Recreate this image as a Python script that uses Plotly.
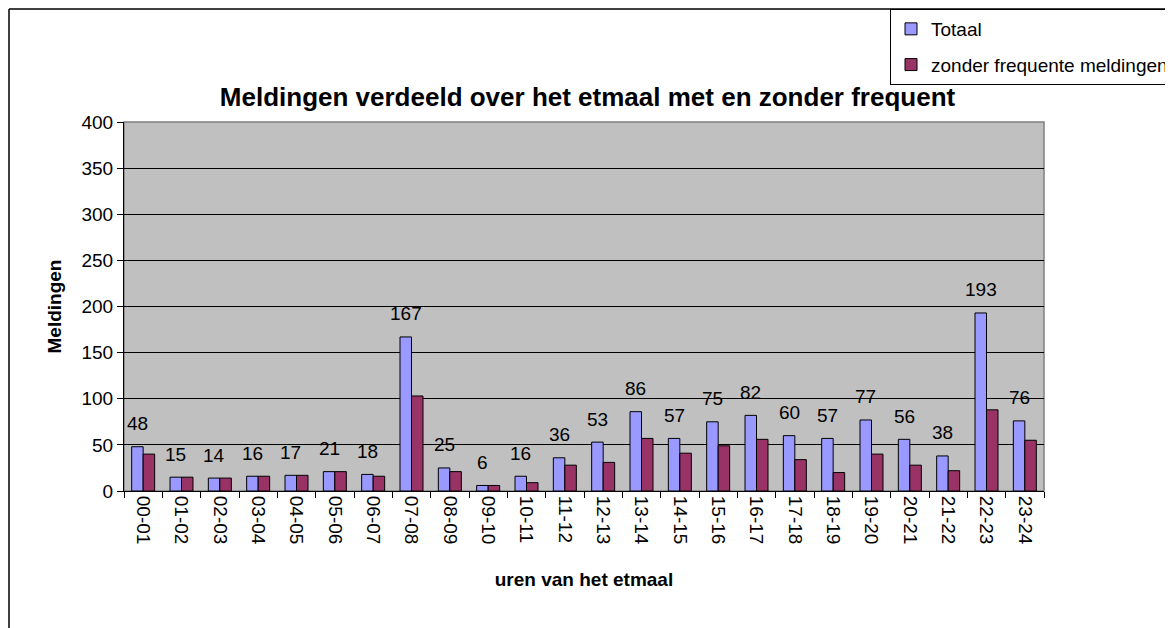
import plotly.graph_objects as go

categories = ["00-01", "01-02", "02-03", "03-04", "04-05", "05-06", "06-07", "07-08",
              "08-09", "09-10", "10-11", "11-12", "12-13", "13-14", "14-15", "15-16",
              "16-17", "17-18", "18-19", "19-20", "20-21", "21-22", "22-23", "23-24"]
totaal = [48, 15, 14, 16, 17, 21, 18, 167, 25, 6, 16, 36, 53, 86, 57, 75, 82, 60, 57, 77, 56, 38, 193, 76]
zonder = [40, 15, 14, 16, 17, 21, 16, 103, 21, 6, 9, 28, 31, 57, 41, 49, 56, 34, 20, 40, 28, 22, 88, 55]
y_ticks = [0, 50, 100, 150, 200, 250, 300, 350, 400]

W, H = 1173, 628          # browser window
O = 8                     # default page body margin
FW, FH = W - O, H - O     # figure size
L, R, T, B = 124, 1044, 122, 491   # plot area in window pixels
pw, ph = R - L, B - T

FONT = "Liberation Sans, Arial, sans-serif"

fig = go.Figure()
fig.add_trace(go.Bar(
    x=categories, y=totaal, name="Totaal", legendgroup="a",
    marker=dict(color="#9999FF", line=dict(color="black", width=1)),
))
fig.add_trace(go.Bar(
    x=categories, y=zonder, name="zonder frequente meldingen", legendgroup="b",
    marker=dict(color="#993366", line=dict(color="black", width=1)),
))

cat_px = pw / len(categories)
for c, v in zip(categories, totaal):
    fig.add_annotation(x=c, y=v, text=str(v), showarrow=False,
                       xshift=-0.15 * cat_px, yshift=23, yanchor="middle",
                       font=dict(family=FONT, size=19, color="black"))

# outer chart border (left and top edges visible)
top_y = (B - (O + 1)) / ph
fig.add_shape(type="line", xref="paper", yref="paper",
              x0=(9 - L) / pw, x1=(W + 20 - L) / pw, y0=top_y, y1=top_y,
              line=dict(color="black", width=1.5), layer="below")
fig.add_shape(type="line", xref="paper", yref="paper",
              x0=(9 - L) / pw, x1=(9 - L) / pw, y0=(B - (H + 20)) / ph, y1=top_y,
              line=dict(color="black", width=1.5), layer="below")
# plot area border (top, right grey)
fig.add_shape(type="rect", xref="paper", yref="paper", x0=0, x1=1, y0=0, y1=1,
              line=dict(color="#808080", width=1.5), layer="below")

fig.update_layout(
    width=FW, height=FH,
    margin=dict(l=L - O, r=W - R, t=T - O, b=H - B, pad=0, autoexpand=False),
    paper_bgcolor="white", plot_bgcolor="#C0C0C0",
    barmode="group", bargap=0.4, bargroupgap=0,
    font=dict(family=FONT, size=20, color="black"),
    title=dict(text="<b>Meldingen verdeeld over het etmaal met en zonder frequent</b>",
               x=(587.5 - O) / FW, xref="container", xanchor="center",
               y=1 - (97 - O) / FH, yref="container", yanchor="middle",
               font=dict(family=FONT, size=26, color="black")),
    legend=dict(x=(890 - L) / pw, y=(B - (O + 1)) / ph, xanchor="left", yanchor="top",
                bgcolor="white", bordercolor="black", borderwidth=1,
                font=dict(family=FONT, size=19, color="black"),
                tracegroupgap=8, itemwidth=30),
    showlegend=True,
)
fig.update_xaxes(
    type="category", showline=True, linecolor="black", linewidth=1,
    ticks="outside", ticklen=6, tickcolor="black", tickson="boundaries",
    tickangle=90, tickfont=dict(family=FONT, size=19),
    showgrid=False, automargin=False,
    title=dict(text="<b>uren van het etmaal</b>", standoff=28,
               font=dict(family=FONT, size=19)),
)
fig.update_yaxes(
    range=[0, 400], tickvals=y_ticks, showline=True, linecolor="black", linewidth=1,
    ticks="outside", ticklen=6, tickcolor="black", automargin=False,
    showgrid=True, gridcolor="black", gridwidth=1, zeroline=False,
    tickfont=dict(family=FONT, size=19),
    title=dict(text="<b>Meldingen</b>", standoff=14, font=dict(family=FONT, size=19)),
)

fig.write_html("out.html")
